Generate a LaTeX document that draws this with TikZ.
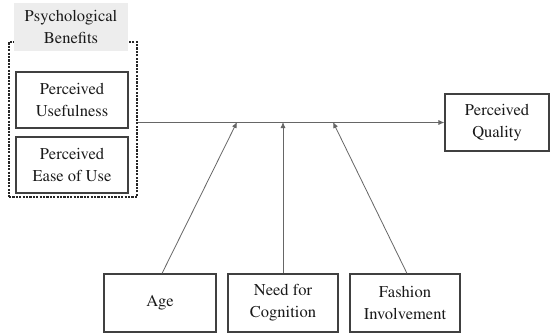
\documentclass[tikz,border=0pt]{standalone}
\usepackage[T1]{fontenc}
\usepackage{times}
\usetikzlibrary{arrows.meta}
\begin{document}
\begin{tikzpicture}[x=1pt,y=-1pt,
  box/.style={draw=black!75, line width=1.1pt, fill=white, text=black!90, align=center,
    font=\fontsize{16.5}{22}\selectfont, inner sep=0pt},
  conn/.style={draw=black!60, line width=0.8pt},
  arr/.style={conn, -{Latex[length=6pt,width=5pt]}}]
\useasboundingbox (0,0) rectangle (552,333);
\fill[white] (0,0) rectangle (552,333);
% group
\node[draw=black!85, dash pattern=on 2.2pt off 1.2pt, line width=1.8pt, minimum width=128pt, minimum height=155pt] (grp) at (73,119.5) {};
\node[fill=black!7, minimum width=114pt, minimum height=48pt, align=center, text=black!90,
  font=\fontsize{16.5}{22}\selectfont, inner sep=0pt] (lab) at (71,27) {Psychological\\Benefits};
\node[box, minimum width=112pt, minimum height=56pt] (pu) at (72,100) {Perceived\\Usefulness};
\node[box, minimum width=112pt, minimum height=56pt] (peou) at (72,165) {Perceived\\Ease of Use};
\node[box, minimum width=104pt, minimum height=57pt] (pq) at (497,122.5) {Perceived\\Quality};
\node[box, minimum width=112pt, minimum height=58pt] (age) at (160,303) {Age};
\node[box, minimum width=110pt, minimum height=58pt] (nfc) at (283,303) {Need for\\Cognition};
\node[box, minimum width=110pt, minimum height=58pt] (fi) at (405,303) {Fashion\\Involvement};
% main path
\draw[arr] (grp.east |- pq.west) -- (pq.west);
\coordinate (m1) at (237,122);
\coordinate (m2) at (283,122);
\coordinate (m3) at (333,122);
\draw[arr] ([xshift=2pt]age.north) -- (m1);
\draw[arr] (nfc.north) -- (m2);
\draw[arr] ([xshift=2pt]fi.north) -- (m3);
\end{tikzpicture}
\end{document}
